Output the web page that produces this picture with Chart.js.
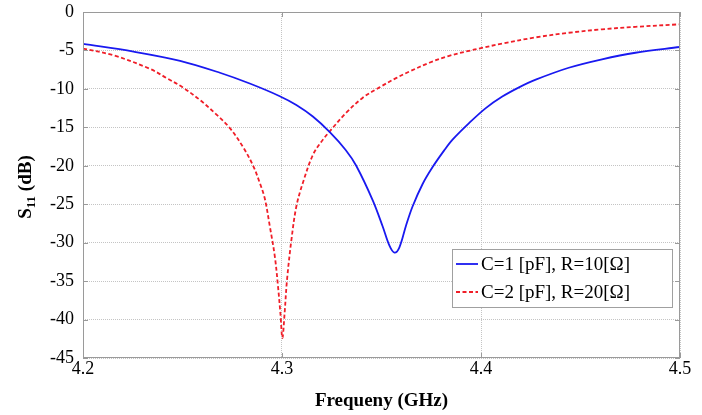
<!DOCTYPE html>
<html><head><meta charset="utf-8">
<script src="https://cdn.jsdelivr.net/npm/chart.js@4"></script>
<style>html,body{margin:0;padding:0;background:#fff}</style>
</head><body>
<canvas id="c" width="702" height="415"></canvas>
<script>
// ---- data ----
const blueLabel = 'C=1 [pF], R=10[\u03A9]';
const redLabel  = 'C=2 [pF], R=20[\u03A9]';

const blueFreq = [4.200, 4.2254, 4.2488, 4.2688, 4.2838, 4.2989, 4.3072, 4.3155, 4.3239, 4.3320, 4.3373, 4.3456, 4.3506, 4.3540, 4.3565, 4.3590, 4.3623, 4.3656, 4.3706, 4.3756, 4.3815, 4.3857, 4.394, 4.4024, 4.4107, 4.4191, 4.4275, 4.4441, 4.4608, 4.4776, 4.500];
const blueS11  = [-4.15, -5.15, -6.35, -7.9, -9.3, -10.95, -12.1, -13.6, -15.6, -17.95, -20.0, -24.5, -27.9, -30.4, -31.3, -30.6, -27.8, -25.3, -22.4, -20.2, -18.0, -16.6, -14.45, -12.5, -11.0, -9.8, -8.8, -7.25, -6.15, -5.3, -4.55];

const redFreq = [4.200, 4.2153, 4.2337, 4.2421, 4.2504, 4.2588, 4.2671, 4.2738, 4.2805, 4.2855, 4.2888, 4.2913, 4.2939, 4.2964, 4.298, 4.2992, 4.3002, 4.3013, 4.3025, 4.3047, 4.3072, 4.3105, 4.3155, 4.3197, 4.3239, 4.3323, 4.3406, 4.349, 4.3573, 4.364, 4.374, 4.384, 4.394, 4.400, 4.4107, 4.4275, 4.4441, 4.4608, 4.4776, 4.500];
const redS11  = [-4.76, -5.63, -7.4, -8.6, -9.85, -11.45, -13.35, -15.1, -17.6, -20.0, -22.2, -24.2, -27.9, -31.8, -35.7, -39.2, -42.4, -39.2, -34.9, -29.7, -25.3, -22.2, -18.6, -16.9, -15.55, -13.1, -11.15, -9.8, -8.6, -7.75, -6.6, -5.7, -5.05, -4.7, -4.1, -3.3, -2.7, -2.25, -1.93, -1.6];

const xTickValues = [4.2, 4.3, 4.4, 4.5];
const xTickLabels = ['4.2', '4.3', '4.4', '4.5'];
const yTickValues = [0, -5, -10, -15, -20, -25, -30, -35, -40, -45];
const yTickLabels = ['0', '-5', '-10', '-15', '-20', '-25', '-30', '-35', '-40', '-45'];

const xTitle = 'Frequeny (GHz)';
const yTitleMain = 'S', yTitleSub = '11', yTitleRest = ' (dB)';

// ---- build ----
const toPts = (xs, ys) => xs.map((x, i) => ({x: x, y: ys[i]}));
const SERIF = '"Liberation Serif", "Times New Roman", serif';
const FRAME = '#9a9a9a';

const framePlugin = {
  id: 'frame',
  afterDatasetsDraw(chart) {
    const {ctx, chartArea: a, scales} = chart;
    ctx.save();
    ctx.strokeStyle = FRAME;
    ctx.lineWidth = 1;
    ctx.setLineDash([]);
    ctx.strokeRect(a.left + 0.5, a.top + 0.5, a.right - a.left - 1, a.bottom - a.top - 1);
    const tl = 5;
    ctx.beginPath();
    xTickValues.forEach(v => {
      const px = Math.round(scales.x.getPixelForValue(v)) + 0.5;
      ctx.moveTo(px, a.bottom); ctx.lineTo(px, a.bottom - tl);
      ctx.moveTo(px, a.top); ctx.lineTo(px, a.top + tl);
    });
    yTickValues.forEach(v => {
      const py = Math.round(scales.y.getPixelForValue(v)) + 0.5;
      ctx.moveTo(a.left, py); ctx.lineTo(a.left + tl, py);
      ctx.moveTo(a.right, py); ctx.lineTo(a.right - tl, py);
    });
    ctx.stroke();
    ctx.restore();
  },
  afterDraw(chart) {
    const {ctx, chartArea: a} = chart;
    // y-axis title with subscript
    ctx.save();
    ctx.fillStyle = '#000';
    ctx.translate(25, (a.top + a.bottom) / 2 + 2);
    ctx.rotate(-Math.PI / 2);
    const fBig = 'bold 19px ' + SERIF, fSmall = 'bold 13px ' + SERIF;
    ctx.font = fBig; const w1 = ctx.measureText(yTitleMain).width; const w3 = ctx.measureText(yTitleRest).width;
    ctx.font = fSmall; const w2 = ctx.measureText(yTitleSub).width;
    let x = -(w1 + w2 + w3) / 2;
    ctx.textBaseline = 'alphabetic';
    ctx.font = fBig; ctx.fillText(yTitleMain, x, 6); x += w1;
    ctx.font = fSmall; ctx.fillText(yTitleSub, x, 10); x += w2;
    ctx.font = fBig; ctx.fillText(yTitleRest, x, 6);
    ctx.restore();

    // legend box
    ctx.save();
    const bx = a.right - 228, by = 249, bw = 220, bh = 58;
    ctx.fillStyle = '#fff';
    ctx.fillRect(bx, by, bw, bh);
    ctx.strokeStyle = '#a0a0a0';
    ctx.lineWidth = 1;
    ctx.strokeRect(bx + 0.5, by + 0.5, bw, bh);
    chart.data.datasets.forEach((ds, i) => {
      const ly = by + 15 + i * 28;
      ctx.beginPath();
      ctx.strokeStyle = ds.borderColor;
      ctx.lineWidth = ds.borderWidth;
      ctx.setLineDash(ds.borderDash || []);
      ctx.moveTo(bx + 4, ly); ctx.lineTo(bx + 26, ly);
      ctx.stroke();
      ctx.setLineDash([]);
      ctx.fillStyle = '#000';
      ctx.font = '19px ' + SERIF;
      ctx.textBaseline = 'middle';
      ctx.fillText(ds.label, bx + 29, ly + 1);
    });
    ctx.restore();
  }
};

new Chart(document.getElementById('c'), {
  type: 'scatter',
  data: {
    datasets: [
      { label: blueLabel, data: toPts(blueFreq, blueS11), showLine: true, borderColor: 'rgb(25,25,240)', borderWidth: 1.8,
        pointRadius: 0, tension: 0.35, fill: false },
      { label: redLabel, data: toPts(redFreq, redS11), showLine: true, borderColor: 'rgb(240,30,40)', borderWidth: 1.8,
        borderDash: [4, 2.5], pointRadius: 0, tension: 0.35, fill: false }
    ]
  },
  options: {
    responsive: false,
    animation: false,
    devicePixelRatio: 1,
    layout: { padding: { left: 0, top: 12, right: 22, bottom: 0 } },
    plugins: { legend: { display: false }, tooltip: { enabled: false } },
    scales: {
      x: {
        type: 'linear', min: 4.2, max: 4.5,
        afterBuildTicks: s => { s.ticks = xTickValues.map(v => ({ value: v })); },
        afterFit: s => { s.height = 57; s.paddingLeft = 0; s.paddingRight = 0; },
        ticks: { padding: 0, color: '#000', font: { family: SERIF, size: 18 },
                 callback: (v) => xTickLabels[xTickValues.findIndex(t => Math.abs(t - v) < 1e-6)] },
        grid: { color: '#c4c4c4', lineWidth: 1, drawTicks: false },
        border: { display: false, dash: [1, 1] },
        title: { display: true, text: xTitle, color: '#000', font: { family: SERIF, size: 19, weight: 'bold' },
                 padding: { top: 0, bottom: 3 } }
      },
      y: {
        type: 'linear', min: -45, max: 0,
        afterBuildTicks: s => { s.ticks = yTickValues.map(v => ({ value: v })); },
        afterFit: s => { s.width = 83; s.paddingTop = 0; s.paddingBottom = 0; },
        ticks: { padding: 9, color: '#000', font: { family: SERIF, size: 18 },
                 callback: (v) => yTickLabels[yTickValues.findIndex(t => Math.abs(t - v) < 1e-6)] },
        grid: { color: '#c4c4c4', lineWidth: 1, drawTicks: false },
        border: { display: false, dash: [1, 1] }
      }
    }
  },
  plugins: [framePlugin]
});
</script>
</body></html>
